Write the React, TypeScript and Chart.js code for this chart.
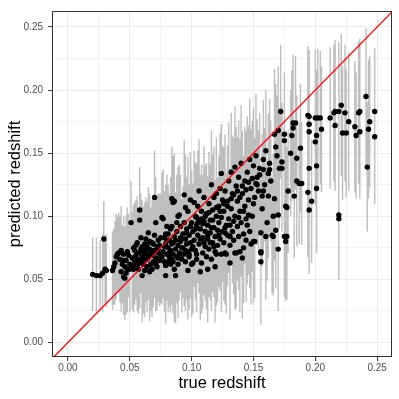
import React, { useEffect, useRef } from "react";
import { Chart, registerables } from "chart.js";

Chart.register(...registerables);

// true redshift of each galaxy
const trueZ = [
  0.020,0.023,0.026,0.028,0.030,0.029,0.031,
  0.036,0.038,0.040,0.042,0.043,0.045,0.046,0.048,0.044,0.039,
  0.041,0.047,0.049,0.045,0.043,0.046,0.048,0.050,0.047,0.037,
  0.051,0.052,0.053,0.054,0.055,0.056,0.057,0.058,0.058,0.058,
  0.059,0.060,0.060,0.061,0.061,0.062,0.063,0.064,0.064,0.065,
  0.065,0.066,0.067,0.067,0.068,0.068,0.069,0.069,0.070,0.070,
  0.071,0.071,0.072,0.072,0.073,0.073,0.074,0.074,0.075,0.075,
  0.054,0.056,0.057,0.062,0.063,0.066,0.059,0.053,0.055,0.066,
  0.076,0.077,0.077,0.078,0.079,0.079,0.080,0.080,0.081,0.081,
  0.082,0.082,0.083,0.083,0.084,0.084,0.085,0.085,0.085,0.086,
  0.086,0.087,0.087,0.088,0.088,0.089,0.089,0.090,0.091,0.091,
  0.092,0.092,0.093,0.093,0.094,0.094,0.095,0.095,0.095,0.096,
  0.096,0.097,0.097,0.098,0.098,0.099,0.099,0.100,0.100,0.100,
  0.090,0.088,0.083,0.079,0.078,0.081,0.086,0.089,0.094,0.097,
  0.101,0.102,0.102,0.103,0.103,0.104,0.104,0.105,0.105,0.106,
  0.106,0.107,0.107,0.108,0.108,0.109,0.109,0.110,0.110,0.111,
  0.111,0.112,0.112,0.113,0.113,0.114,0.114,0.115,0.115,0.116,
  0.116,0.117,0.117,0.118,0.118,0.119,0.119,0.120,0.120,0.120,
  0.121,0.121,0.122,0.122,0.123,0.123,0.124,0.124,0.124,0.125,
  0.125,0.106,0.101,0.119,0.113,0.109,0.115,0.122,0.104,0.118,
  0.126,0.126,0.127,0.127,0.128,0.128,0.129,0.129,0.130,0.130,
  0.131,0.131,0.132,0.132,0.133,0.133,0.134,0.135,0.135,0.135,
  0.136,0.136,0.137,0.137,0.138,0.138,0.139,0.139,0.140,0.140,
  0.141,0.141,0.142,0.142,0.143,0.143,0.144,0.144,0.145,0.145,
  0.146,0.147,0.147,0.148,0.149,0.150,0.150,0.148,0.131,0.127,
  0.151,0.151,0.152,0.153,0.154,0.155,0.156,0.156,0.156,0.156,
  0.157,0.157,0.158,0.159,0.160,0.160,0.161,0.162,0.162,0.163,
  0.164,0.165,0.166,0.166,0.167,0.167,0.168,0.168,0.169,0.170,
  0.170,0.170,0.171,0.172,0.173,0.173,0.175,0.175,0.176,0.176,
  0.177,0.177,0.175,0.178,
  0.180,0.181,0.182,0.182,0.183,0.184,0.185,0.185,0.187,0.188,
  0.189,0.194,0.194,0.195,0.195,0.195,0.195,0.195,0.197,0.200,
  0.201,0.200,0.201,0.201,0.202,0.204,0.205,0.212,0.215,0.216,
  0.216,0.219,0.219,0.219,0.221,0.222,0.224,0.225,0.227,0.232,
  0.233,0.235,0.236,0.236,0.241,0.242,0.243,0.244,0.248,0.248,
  0.062,0.068,0.073,0.078,0.084,0.087,0.091,0.096,0.099,0.103,
  0.105,0.108,0.111,0.114,0.117,0.120,0.123,0.126,0.129,0.132,
  0.134,0.137,0.139,0.141,0.144,0.146,0.149,0.152,0.155,0.158,
  0.058,0.061,0.064,0.067,0.070,0.072,0.076,0.079,0.082,0.085,
  0.089,0.092,0.095,0.098,0.101,0.104,0.107,0.110,0.113,0.116,
  0.045,0.050,0.052,0.056,0.060,0.063,0.069,0.071,0.080,0.084,
  0.127,0.131,0.134,0.138,0.142,0.146,0.150,0.153,0.158,0.163,
];

// predicted redshift
const predZ = [
  0.054,0.053,0.053,0.055,0.058,0.082,0.057,
  0.057,0.063,0.070,0.066,0.056,0.052,0.051,0.072,0.062,0.068,
  0.071,0.065,0.069,0.070,0.073,0.060,0.058,0.062,0.055,0.060,
  0.095,0.067,0.075,0.073,0.069,0.079,0.071,0.097,0.105,0.065,
  0.074,0.053,0.068,0.062,0.072,0.078,0.070,0.077,0.066,0.068,
  0.087,0.074,0.071,0.062,0.079,0.058,0.064,0.073,0.085,0.115,
  0.067,0.095,0.076,0.060,0.071,0.081,0.065,0.077,0.069,0.083,
  0.064,0.061,0.058,0.057,0.082,0.080,0.083,0.058,0.077,0.056,
  0.099,0.098,0.072,0.064,0.053,0.078,0.092,0.070,0.086,0.075,
  0.068,0.081,0.073,0.062,0.066,0.114,0.070,0.111,0.079,0.112,
  0.084,0.053,0.074,0.068,0.088,0.077,0.062,0.071,0.080,0.092,
  0.075,0.066,0.075,0.086,0.117,0.070,0.064,0.107,0.082,0.078,
  0.090,0.057,0.072,0.085,0.068,0.113,0.079,0.095,0.074,0.062,
  0.101,0.095,0.090,0.086,0.083,0.064,0.058,0.100,0.095,0.104,
  0.088,0.111,0.081,0.100,0.073,0.093,0.066,0.085,0.108,0.078,
  0.097,0.056,0.090,0.063,0.104,0.083,0.071,0.096,0.115,0.088,
  0.076,0.102,0.068,0.093,0.082,0.110,0.074,0.097,0.087,0.125,
  0.066,0.105,0.079,0.091,0.115,0.084,0.072,0.070,0.100,0.118,
  0.089,0.077,0.108,0.095,0.082,0.122,0.134,0.070,0.099,0.088,
  0.113,0.120,0.063,0.060,0.058,0.094,0.079,0.085,0.099,0.076,
  0.104,0.079,0.071,0.120,0.093,0.070,0.112,0.085,0.128,0.098,
  0.093,0.077,0.135,0.106,0.088,0.118,0.081,0.139,0.071,0.100,
  0.071,0.124,0.092,0.112,0.084,0.131,0.072,0.104,0.142,0.095,
  0.118,0.067,0.075,0.086,0.128,0.108,0.081,0.098,0.093,0.135,
  0.113,0.145,0.088,0.122,0.100,0.080,0.140,0.078,0.063,0.087,
  0.115,0.080,0.148,0.131,0.120,0.138,0.071,0.064,0.072,0.087,
  0.106,0.116,0.145,0.125,0.084,0.152,0.095,0.116,0.134,0.142,
  0.128,0.085,0.100,0.084,0.114,0.165,0.089,0.155,0.148,0.101,
  0.074,0.168,0.138,0.183,0.143,0.138,0.165,0.084,0.108,0.080,
  0.084,0.107,0.160,0.120,
  0.150,0.164,0.174,0.170,0.116,0.174,0.146,0.128,0.126,0.154,
  0.126,0.180,0.119,0.179,0.173,0.167,0.138,0.105,0.112,0.178,
  0.164,0.159,0.140,0.122,0.178,0.178,0.169,0.178,0.182,0.183,
  0.172,0.183,0.101,0.098,0.188,0.166,0.182,0.166,0.175,0.171,
  0.164,0.182,0.183,0.167,0.195,0.139,0.169,0.175,0.183,0.163,
  0.075,0.069,0.074,0.076,0.078,0.081,0.083,0.087,0.092,0.090,
  0.095,0.098,0.100,0.103,0.097,0.107,0.104,0.110,0.108,0.114,
  0.117,0.120,0.115,0.124,0.121,0.127,0.130,0.126,0.133,0.137,
  0.063,0.066,0.060,0.069,0.072,0.066,0.068,0.061,0.071,0.064,
  0.067,0.070,0.073,0.070,0.076,0.070,0.082,0.079,0.085,0.091,
  0.065,0.058,0.061,0.066,0.076,0.073,0.078,0.062,0.081,0.092,
  0.091,0.084,0.096,0.099,0.104,0.101,0.110,0.125,0.120,0.137,
];

// half-width of the prediction interval (grey bars)
const errZ = [
  0.029,0.030,0.028,0.031,0.027,0.030,0.029,
  0.031,0.033,0.030,0.034,0.032,0.030,0.033,0.035,0.031,0.034,
  0.032,0.036,0.033,0.030,0.035,0.032,0.034,0.031,0.033,0.030,
  0.033,0.036,0.034,0.038,0.035,0.037,0.033,0.036,0.034,0.038,
  0.035,0.037,0.034,0.039,0.036,0.033,0.038,0.035,0.037,0.034,
  0.036,0.039,0.035,0.037,0.034,0.038,0.036,0.040,0.035,0.037,
  0.038,0.036,0.040,0.035,0.039,0.037,0.036,0.041,0.038,0.035,
  0.034,0.036,0.035,0.037,0.033,0.038,0.035,0.034,0.036,0.039,
  0.036,0.039,0.037,0.040,0.038,0.035,0.041,0.037,0.039,0.036,
  0.040,0.037,0.042,0.038,0.036,0.041,0.039,0.037,0.040,0.038,
  0.041,0.038,0.040,0.037,0.042,0.039,0.043,0.038,0.040,0.041,
  0.039,0.042,0.040,0.038,0.043,0.041,0.039,0.042,0.040,0.044,
  0.041,0.039,0.043,0.040,0.042,0.038,0.044,0.041,0.039,0.042,
  0.040,0.038,0.041,0.039,0.037,0.040,0.042,0.039,0.041,0.043,
  0.038,0.041,0.037,0.043,0.039,0.040,0.042,0.038,0.044,0.039,
  0.041,0.038,0.043,0.040,0.037,0.042,0.044,0.039,0.041,0.038,
  0.043,0.040,0.042,0.039,0.044,0.041,0.038,0.045,0.040,0.043,
  0.041,0.044,0.039,0.042,0.040,0.045,0.043,0.041,0.038,0.044,
  0.042,0.045,0.040,0.043,0.041,0.044,0.039,0.046,0.042,0.040,
  0.043,0.041,0.040,0.044,0.042,0.039,0.045,0.041,0.043,0.040,
  0.043,0.046,0.041,0.045,0.042,0.047,0.044,0.040,0.046,0.043,
  0.045,0.042,0.047,0.044,0.041,0.046,0.043,0.048,0.045,0.042,
  0.044,0.047,0.043,0.046,0.042,0.045,0.048,0.044,0.046,0.043,
  0.045,0.048,0.044,0.047,0.043,0.046,0.049,0.045,0.047,0.044,
  0.046,0.048,0.045,0.047,0.044,0.049,0.046,0.048,0.045,0.043,
  0.047,0.045,0.049,0.046,0.048,0.044,0.047,0.050,0.046,0.048,
  0.046,0.049,0.047,0.045,0.050,0.048,0.046,0.049,0.047,0.051,
  0.048,0.046,0.050,0.047,0.049,0.052,0.046,0.050,0.048,0.047,
  0.049,0.051,0.048,0.053,0.047,0.050,0.049,0.048,0.051,0.047,
  0.050,0.048,0.052,0.049,
  0.050,0.052,0.054,0.051,0.049,0.053,0.050,0.052,0.048,0.051,
  0.049,0.055,0.051,0.053,0.050,0.052,0.048,0.051,0.049,0.054,
  0.052,0.050,0.049,0.051,0.055,0.053,0.050,0.056,0.054,0.057,
  0.052,0.055,0.050,0.048,0.056,0.053,0.054,0.051,0.055,0.052,
  0.050,0.056,0.058,0.053,0.054,0.051,0.055,0.052,0.050,0.053,
  0.036,0.038,0.037,0.039,0.040,0.038,0.041,0.039,0.042,0.040,
  0.041,0.043,0.040,0.042,0.044,0.041,0.043,0.045,0.042,0.044,
  0.045,0.043,0.046,0.044,0.047,0.045,0.046,0.048,0.046,0.049,
  0.035,0.037,0.036,0.038,0.037,0.039,0.038,0.040,0.039,0.041,
  0.040,0.042,0.041,0.043,0.040,0.042,0.044,0.041,0.043,0.042,
  0.033,0.034,0.035,0.036,0.037,0.036,0.038,0.037,0.039,0.040,
  0.044,0.043,0.045,0.046,0.044,0.047,0.046,0.048,0.049,0.050,
];

// identity line y = x
const identityLine = [-0.05, 0.3];

const xTicks = [0, 0.025, 0.05, 0.075, 0.1, 0.125, 0.15, 0.175, 0.2, 0.225, 0.25];
const yTicks = [0, 0.025, 0.05, 0.075, 0.1, 0.125, 0.15, 0.175, 0.2, 0.225, 0.25];

const X_MIN = -0.0129;
const X_MAX = 0.262;
const Y_MIN = -0.0115;
const Y_MAX = 0.2627;

const isMajor = (v: number) => Math.abs(v * 20 - Math.round(v * 20)) < 1e-6;

const FONT = "'Liberation Sans', Arial, Helvetica, sans-serif";

const errorBarPlugin = {
  id: "errorBars",
  beforeDatasetsDraw(chart: any) {
    const { ctx, chartArea, scales } = chart;
    const xs = scales.x;
    const ys = scales.y;
    const n = Math.min(trueZ.length, predZ.length, errZ.length);
    ctx.save();
    ctx.beginPath();
    ctx.rect(chartArea.left, chartArea.top, chartArea.right - chartArea.left, chartArea.bottom - chartArea.top);
    ctx.clip();
    ctx.strokeStyle = "#BEBEBE";
    ctx.lineWidth = 1.4;
    ctx.beginPath();
    for (let i = 0; i < n; i++) {
      const px = xs.getPixelForValue(trueZ[i]);
      ctx.moveTo(px, ys.getPixelForValue(predZ[i] - errZ[i]));
      ctx.lineTo(px, ys.getPixelForValue(predZ[i] + errZ[i]));
    }
    ctx.stroke();
    ctx.restore();
  },
};

const borderPlugin = {
  id: "panelBorder",
  afterDraw(chart: any) {
    const { ctx, chartArea } = chart;
    ctx.save();
    ctx.strokeStyle = "#333333";
    ctx.lineWidth = 1;
    const l = Math.round(chartArea.left) + 0.5;
    const t = Math.round(chartArea.top) + 0.5;
    const r = Math.round(chartArea.right) - 0.5;
    const b = Math.round(chartArea.bottom) - 0.5;
    ctx.strokeRect(l, t, r - l, b - t);
    ctx.restore();
  },
};

export default function App() {
  const ref = useRef<HTMLCanvasElement | null>(null);

  useEffect(() => {
    if (!ref.current) return;
    const n = Math.min(trueZ.length, predZ.length);
    const pts = [];
    for (let i = 0; i < n; i++) pts.push({ x: trueZ[i], y: predZ[i] });

    const gridCfg = {
      color: (c: any) => "#EBEBEB",
      lineWidth: (c: any) => (c.tick && isMajor(c.tick.value) ? 1.1 : 0.55),
      drawTicks: true,
      tickLength: 4,
      tickWidth: 1,
      tickColor: (c: any) => (c.tick && isMajor(c.tick.value) ? "#333333" : "rgba(0,0,0,0)"),
    };

    const chart = new Chart(ref.current, {
      type: "scatter",
      data: {
        datasets: [
          {
            label: "identity",
            data: identityLine.map((v) => ({ x: v, y: v })),
            showLine: true,
            borderColor: "#FF0000",
            borderWidth: 1.3,
            pointRadius: 0,
            fill: false,
          } as any,
          {
            label: "galaxies",
            data: pts,
            pointRadius: 2.7,
            pointBackgroundColor: "#000000",
            pointBorderWidth: 0,
            backgroundColor: "#000000",
            borderColor: "#000000",
          },
        ],
      },
      options: {
        animation: false,
        responsive: false,
        events: [],
        layout: { padding: { top: 6, right: 7, left: 0, bottom: 0 } },
        plugins: {
          legend: { display: false },
          tooltip: { enabled: false },
        },
        scales: {
          x: {
            type: "linear",
            min: X_MIN,
            max: X_MAX,
            afterBuildTicks: (s: any) => {
              s.ticks = xTicks.map((v) => ({ value: v }));
            },
            afterFit: (s: any) => {
              s.height = 42;
            },
            border: { display: false },
            grid: gridCfg as any,
            ticks: {
              autoSkip: false,
              maxRotation: 0,
              padding: 1,
              color: "#4D4D4D",
              font: { family: FONT, size: 10 },
              callback: (v: any) => (isMajor(Number(v)) ? Number(v).toFixed(2) : ""),
            },
            title: {
              display: true,
              text: "true redshift",
              color: "#000000",
              font: { family: FONT, size: 16.5 },
              padding: { top: 0, bottom: 6 },
            },
          },
          y: {
            type: "linear",
            min: Y_MIN,
            max: Y_MAX,
            afterBuildTicks: (s: any) => {
              s.ticks = yTicks.map((v) => ({ value: v }));
            },
            afterFit: (s: any) => {
              s.width = 52;
            },
            border: { display: false },
            grid: gridCfg as any,
            ticks: {
              autoSkip: false,
              padding: 5,
              color: "#4D4D4D",
              font: { family: FONT, size: 10 },
              callback: (v: any) => (isMajor(Number(v)) ? Number(v).toFixed(2) : ""),
            },
            title: {
              display: true,
              text: "predicted redshift",
              color: "#000000",
              font: { family: FONT, size: 16.5 },
              padding: { top: 6, bottom: 0 },
            },
          },
        },
      },
      plugins: [errorBarPlugin, borderPlugin],
    });
    return () => chart.destroy();
  }, []);

  return (
    <div style={{ position: "absolute", left: 0, top: 0, width: 399, height: 399, background: "#FFFFFF" }}>
      <canvas ref={ref} width={399} height={399} style={{ display: "block", width: 399, height: 399 }} />
    </div>
  );
}
